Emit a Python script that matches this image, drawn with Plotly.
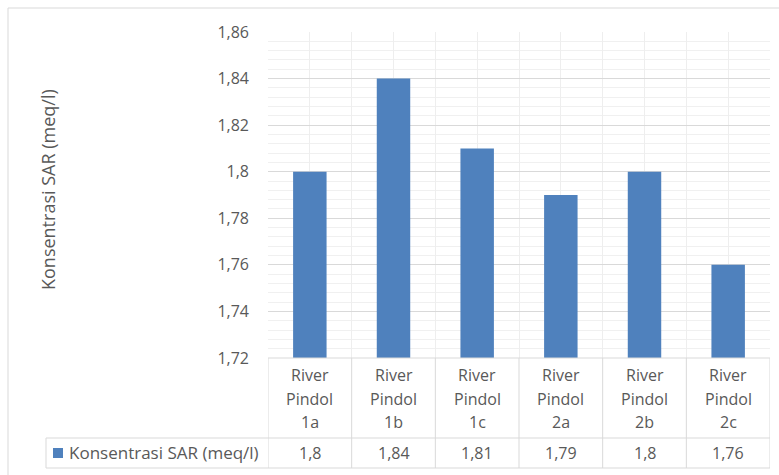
import plotly.graph_objects as go

categories = ["River Pindol 1a", "River Pindol 1b", "River Pindol 1c",
              "River Pindol 2a", "River Pindol 2b", "River Pindol 2c"]
values = [1.80, 1.84, 1.81, 1.79, 1.80, 1.76]
value_labels = ["1,8", "1,84", "1,81", "1,79", "1,8", "1,76"]
y_ticks = [1.72, 1.74, 1.76, 1.78, 1.80, 1.82, 1.84, 1.86]
y_tick_labels = ["1,72", "1,74", "1,76", "1,78", "1,8", "1,82", "1,84", "1,86"]
series_name = "Konsentrasi SAR (meq/l)"

W, H = 779, 475
L, R, T, B = 268, 770, 32, 358
FONT = "Open Sans"
TXT = "#595959"
BAR = "#4F81BD"
LINE = "#d9d9d9"

def px(p):
    return (p - L) / (R - L)

def py(p):
    return (B - p) / (B - T)

xs = list(range(len(categories)))

fig = go.Figure()
fig.add_trace(go.Bar(x=xs, y=values, width=0.4, marker=dict(color=BAR, line=dict(width=0)),
                     name=series_name, showlegend=False, hoverinfo="skip"))

shapes = []
annotations = []
# outer chart frame (top and left edges visible)
shapes.append(dict(type="line", xref="paper", yref="paper", x0=px(8), x1=px(W), y0=py(8), y1=py(8),
                   line=dict(color="#d9d9d9", width=1)))
shapes.append(dict(type="line", xref="paper", yref="paper", x0=px(8), x1=px(8), y0=py(H), y1=py(8),
                   line=dict(color="#d9d9d9", width=1)))
# table lines
row1_bottom, row2_bottom = 438, 468
for i in range(len(categories) + 1):
    xb = i - 0.5
    shapes.append(dict(type="line", xref="x", yref="paper", x0=xb, x1=xb, y0=py(row2_bottom), y1=py(B),
                       line=dict(color=LINE, width=1)))
shapes.append(dict(type="line", xref="paper", yref="paper", x0=px(46), x1=1, y0=py(row1_bottom), y1=py(row1_bottom),
                   line=dict(color=LINE, width=1)))
shapes.append(dict(type="line", xref="paper", yref="paper", x0=px(46), x1=1, y0=py(row2_bottom), y1=py(row2_bottom),
                   line=dict(color=LINE, width=1)))
shapes.append(dict(type="line", xref="paper", yref="paper", x0=px(46), x1=px(46), y0=py(row2_bottom), y1=py(row1_bottom),
                   line=dict(color=LINE, width=1)))
shapes.append(dict(type="line", xref="paper", yref="paper", x0=0, x1=1, y0=py(B), y1=py(B),
                   line=dict(color=LINE, width=1)))
# legend key
shapes.append(dict(type="rect", xref="paper", yref="paper", x0=px(53), x1=px(63), y0=py(458), y1=py(448),
                   fillcolor=BAR, line=dict(width=0)))
annotations.append(dict(xref="paper", yref="paper", x=px(67), y=py(453), text=series_name, showarrow=False,
                        xanchor="left", yanchor="middle", font=dict(family=FONT, size=17, color=TXT)))

line_ys = [375, 399, 422]
for i, cat in enumerate(categories):
    words = cat.split(" ")
    for w, ly in zip(words, line_ys):
        annotations.append(dict(xref="x", yref="paper", x=i, y=py(ly), text=w, showarrow=False,
                                xanchor="center", yanchor="middle", font=dict(family=FONT, size=16, color=TXT)))
    annotations.append(dict(xref="x", yref="paper", x=i, y=py(453), text=value_labels[i], showarrow=False,
                            xanchor="center", yanchor="middle", font=dict(family=FONT, size=16, color=TXT)))

# y-axis title
annotations.append(dict(xref="paper", yref="paper", x=px(48), y=py(190), text=series_name, textangle=-90,
                        showarrow=False, xanchor="center", yanchor="middle",
                        font=dict(family=FONT, size=18, color=TXT)))

fig.update_layout(
    width=W, height=H,
    margin=dict(l=L, r=W - R, t=T, b=H - B),
    paper_bgcolor="white", plot_bgcolor="white",
    shapes=shapes, annotations=annotations,
    bargap=0.6, showlegend=False,
    font=dict(family=FONT, color=TXT),
)
fig.update_xaxes(range=[-0.5, len(categories) - 0.5], tick0=-0.5, dtick=0.5, showgrid=True,
                 gridcolor="#eeeeee", gridwidth=1, showticklabels=False, zeroline=False,
                 showline=False, ticks="")
fig.update_yaxes(range=[1.72, 1.86], tickvals=y_ticks, ticktext=y_tick_labels, showgrid=True,
                 gridcolor=LINE, gridwidth=1, zeroline=False, showline=False, ticks="",
                 ticklabelstandoff=18,
                 tickfont=dict(family=FONT, size=16, color=TXT),
                 minor=dict(dtick=0.004, tick0=1.72, showgrid=True, gridcolor="#f0f0f0", gridwidth=1))
fig.write_html("out.html", config={"displayModeBar": False},
               post_script="document.body.style.margin='0';document.body.style.overflow='hidden';")
